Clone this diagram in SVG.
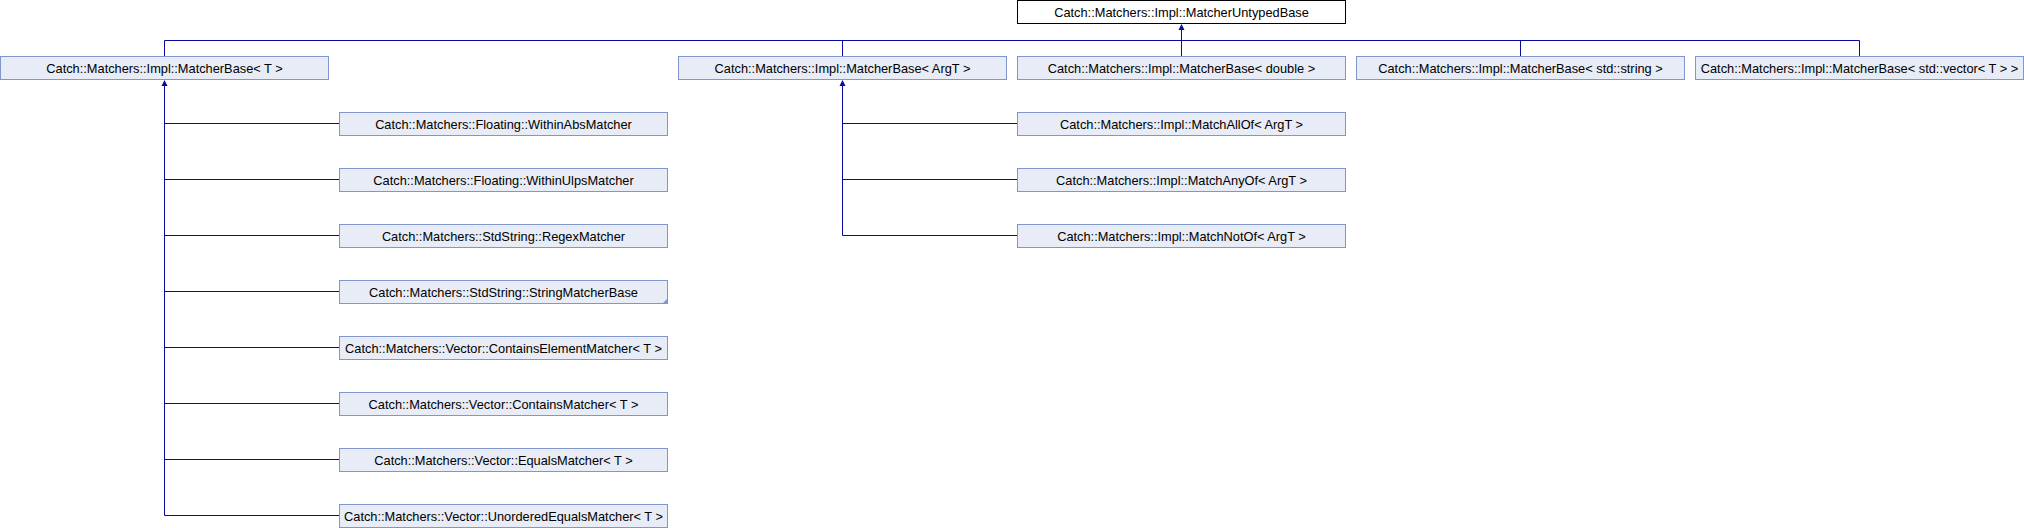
<svg xmlns="http://www.w3.org/2000/svg" width="2024" height="528" viewBox="0 0 2024 528">
<style>
.bg{fill:#ffffff}
.n rect{fill:#e8ecf6;stroke:#8096cc;stroke-width:1}
.top rect{fill:#ffffff;stroke:#000000;stroke-width:1}
text{font-family:"Liberation Sans",Arial,sans-serif;font-size:12.8px;fill:#000000;text-anchor:middle}
.c path{fill:none;stroke:#08089a;stroke-width:1}
.c polygon{fill:#08089a;stroke:none}
.more{fill:#8096cc}
</style>
<rect class="bg" x="0" y="0" width="2024" height="528"/>
<g class="c" id="connectors">
<path d="M164.5,56 V40.5 H1859.5 V56 M842.5,40.5 V56 M1520.5,40.5 V56 M1181.5,56 V28"/>
<polygon points="1181.5,24 1178.5,30 1184.5,30"/>
<path d="M164.5,84 V515.5 M164.5,123.5 H339 M164.5,179.5 H339 M164.5,235.5 H339 M164.5,291.5 H339 M164.5,347.5 H339 M164.5,403.5 H339 M164.5,459.5 H339 M164.5,515.5 H339"/>
<polygon points="164.5,80 161.5,86 167.5,86"/>
<path d="M842.5,84 V235.5 M842.5,123.5 H1017 M842.5,179.5 H1017 M842.5,235.5 H1017"/>
<polygon points="842.5,80 839.5,86 845.5,86"/>
</g>
<g class="top" id="MatcherUntypedBase"><rect x="1017.5" y="0.5" width="328" height="23"/><text x="1181.5" y="16.5">Catch::Matchers::Impl::MatcherUntypedBase</text></g>
<g class="n" id="MatcherBase_T"><rect x="0.5" y="56.5" width="328" height="23"/><text x="164.5" y="72.5">Catch::Matchers::Impl::MatcherBase&lt; T &gt;</text></g>
<g class="n" id="MatcherBase_ArgT"><rect x="678.5" y="56.5" width="328" height="23"/><text x="842.5" y="72.5">Catch::Matchers::Impl::MatcherBase&lt; ArgT &gt;</text></g>
<g class="n" id="MatcherBase_double"><rect x="1017.5" y="56.5" width="328" height="23"/><text x="1181.5" y="72.5">Catch::Matchers::Impl::MatcherBase&lt; double &gt;</text></g>
<g class="n" id="MatcherBase_string"><rect x="1356.5" y="56.5" width="328" height="23"/><text x="1520.5" y="72.5">Catch::Matchers::Impl::MatcherBase&lt; std::string &gt;</text></g>
<g class="n" id="MatcherBase_vector"><rect x="1695.5" y="56.5" width="328" height="23"/><text x="1859.5" y="72.5">Catch::Matchers::Impl::MatcherBase&lt; std::vector&lt; T &gt; &gt;</text></g>
<g class="n" id="WithinAbsMatcher"><rect x="339.5" y="112.5" width="328" height="23"/><text x="503.5" y="128.5">Catch::Matchers::Floating::WithinAbsMatcher</text></g>
<g class="n" id="WithinUlpsMatcher"><rect x="339.5" y="168.5" width="328" height="23"/><text x="503.5" y="184.5">Catch::Matchers::Floating::WithinUlpsMatcher</text></g>
<g class="n" id="RegexMatcher"><rect x="339.5" y="224.5" width="328" height="23"/><text x="503.5" y="240.5">Catch::Matchers::StdString::RegexMatcher</text></g>
<g class="n" id="StringMatcherBase"><rect x="339.5" y="280.5" width="328" height="23"/><polygon class="more" points="662,304 668,298 668,304"/><text x="503.5" y="296.5">Catch::Matchers::StdString::StringMatcherBase</text></g>
<g class="n" id="ContainsElementMatcher"><rect x="339.5" y="336.5" width="328" height="23"/><text x="503.5" y="352.5">Catch::Matchers::Vector::ContainsElementMatcher&lt; T &gt;</text></g>
<g class="n" id="ContainsMatcher"><rect x="339.5" y="392.5" width="328" height="23"/><text x="503.5" y="408.5">Catch::Matchers::Vector::ContainsMatcher&lt; T &gt;</text></g>
<g class="n" id="EqualsMatcher"><rect x="339.5" y="448.5" width="328" height="23"/><text x="503.5" y="464.5">Catch::Matchers::Vector::EqualsMatcher&lt; T &gt;</text></g>
<g class="n" id="UnorderedEqualsMatcher"><rect x="339.5" y="504.5" width="328" height="23"/><text x="503.5" y="520.5">Catch::Matchers::Vector::UnorderedEqualsMatcher&lt; T &gt;</text></g>
<g class="n" id="MatchAllOf"><rect x="1017.5" y="112.5" width="328" height="23"/><text x="1181.5" y="128.5">Catch::Matchers::Impl::MatchAllOf&lt; ArgT &gt;</text></g>
<g class="n" id="MatchAnyOf"><rect x="1017.5" y="168.5" width="328" height="23"/><text x="1181.5" y="184.5">Catch::Matchers::Impl::MatchAnyOf&lt; ArgT &gt;</text></g>
<g class="n" id="MatchNotOf"><rect x="1017.5" y="224.5" width="328" height="23"/><text x="1181.5" y="240.5">Catch::Matchers::Impl::MatchNotOf&lt; ArgT &gt;</text></g>
</svg>
